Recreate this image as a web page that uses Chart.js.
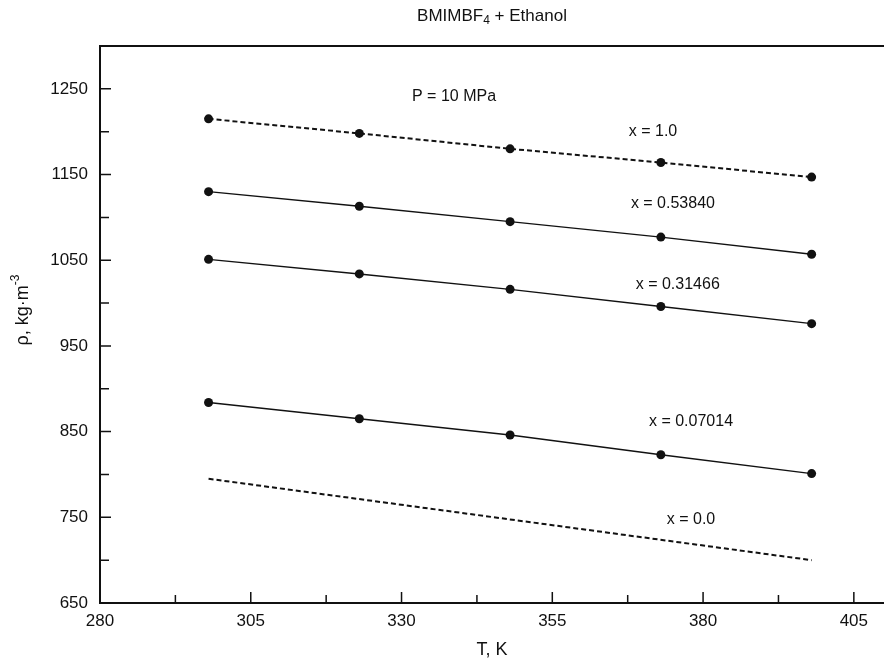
<!DOCTYPE html>
<html>
<head>
<meta charset="utf-8">
<script src="https://cdn.jsdelivr.net/npm/chart.js@4"></script>
<style>
  html, body { margin: 0; padding: 0; background: #fff; }
  #wrap { width: 884px; height: 663px; position: relative; }
</style>
</head>
<body>
<div id="wrap"><canvas id="densityChart"></canvas></div>
<script>
// temperatures (K) of the measured points
const temps = [298, 323, 348, 373, 398];
// density (kg/m3) for each mole fraction of BMIMBF4
const rhoX1000 = [1215, 1198, 1180, 1164, 1147];
const rhoX0538 = [1130, 1113, 1095, 1077, 1057];
const rhoX0315 = [1051, 1034, 1016, 996, 976];
const rhoX0070 = [884, 865, 846, 823, 801];
// pure ethanol, drawn as a dashed line without markers
const tempsEthanol = [298, 398];
const rhoX0000 = [795, 700];

const seriesNames = ['x = 1.0', 'x = 0.53840', 'x = 0.31466', 'x = 0.07014', 'x = 0.0'];
// where each series name sits, in data units (T, rho)
const nameT = [371.7, 375, 375.8, 378, 378];
const nameRho = [1200, 1116, 1021, 862, 747];

const xTicks = [280, 305, 330, 355, 380, 405];
const xMinor = [292.5, 317.5, 342.5, 367.5, 392.5];
const yTicks = [650, 750, 850, 950, 1050, 1150, 1250];
const yMinor = [700, 800, 900, 1000, 1100, 1200];

const FONT = "'Liberation Sans', Arial, Helvetica, sans-serif";
const INK = '#111';

function pts(xs, ys) {
    return xs.map((x, i) => ({x: x, y: ys[i]}));
}

function series(xs, ys, dashed, markers) {
    return {
        data: pts(xs, ys),
        showLine: true,
        borderColor: INK,
        backgroundColor: INK,
        borderWidth: dashed ? 2 : 1.4,
        borderDash: dashed ? [5, 3] : [],
        pointRadius: markers ? 4.5 : 0,
        pointBorderWidth: 0,
        pointBackgroundColor: INK,
        tension: 0
    };
}

const framePlugin = {
    id: 'frame',
    afterDraw(chart) {
        const {ctx, chartArea: a, scales: {x, y}} = chart;
        ctx.save();
        ctx.strokeStyle = INK;
        ctx.lineWidth = 2;
        ctx.beginPath();
        ctx.moveTo(a.right, a.top);
        ctx.lineTo(a.left, a.top);
        ctx.lineTo(a.left, a.bottom);
        ctx.lineTo(a.right, a.bottom);
        ctx.stroke();

        // inward ticks
        ctx.lineWidth = 1.5;
        ctx.beginPath();
        xTicks.forEach(v => { const px = x.getPixelForValue(v); ctx.moveTo(px, a.bottom); ctx.lineTo(px, a.bottom - 11); });
        xMinor.forEach(v => { const px = x.getPixelForValue(v); ctx.moveTo(px, a.bottom); ctx.lineTo(px, a.bottom - 8); });
        yTicks.forEach(v => { const py = y.getPixelForValue(v); ctx.moveTo(a.left, py); ctx.lineTo(a.left + 11, py); });
        yMinor.forEach(v => { const py = y.getPixelForValue(v); ctx.moveTo(a.left, py); ctx.lineTo(a.left + 9, py); });
        ctx.stroke();

        ctx.fillStyle = INK;
        ctx.textBaseline = 'middle';

        // series names and pressure note
        ctx.font = '16px ' + FONT;
        ctx.textAlign = 'center';
        seriesNames.forEach((s, i) => {
            ctx.fillText(s, x.getPixelForValue(nameT[i]), y.getPixelForValue(nameRho[i]));
        });
        ctx.fillText('P = 10 MPa', x.getPixelForValue(338.7), y.getPixelForValue(1241));

        // title with subscript
        ctx.textAlign = 'left';
        const big = '17px ' + FONT, small = '12px ' + FONT;
        ctx.font = big;
        const w1 = ctx.measureText('BMIMBF').width;
        const w3 = ctx.measureText(' + Ethanol').width;
        ctx.font = small;
        const w2 = ctx.measureText('4').width;
        let tx = (a.left + a.right) / 2 - (w1 + w2 + w3) / 2;
        const ty = 16;
        ctx.font = big;
        ctx.fillText('BMIMBF', tx, ty);
        ctx.font = small;
        ctx.fillText('4', tx + w1, ty + 5);
        ctx.font = big;
        ctx.fillText(' + Ethanol', tx + w1 + w2, ty);

        // x axis title
        ctx.font = '18px ' + FONT;
        ctx.textAlign = 'center';
        ctx.fillText('T, K', (a.left + a.right) / 2, 650);

        // y axis title, rotated, with superscript
        ctx.save();
        ctx.translate(23, 310);
        ctx.rotate(-Math.PI / 2);
        ctx.textAlign = 'left';
        ctx.font = '18px ' + FONT;
        const m1 = ctx.measureText('\u03c1, kg\u00b7m').width;
        ctx.font = small;
        const m2 = ctx.measureText('-3').width;
        const sx = -(m1 + m2) / 2;
        ctx.font = '18px ' + FONT;
        ctx.fillText('\u03c1, kg\u00b7m', sx, 0);
        ctx.font = small;
        ctx.fillText('-3', sx + m1, -7);
        ctx.restore();

        ctx.restore();
    }
};

new Chart(document.getElementById('densityChart'), {
    type: 'scatter',
    data: {
        datasets: [
            series(temps, rhoX1000, true, true),
            series(temps, rhoX0538, false, true),
            series(temps, rhoX0315, false, true),
            series(temps, rhoX0070, false, true),
            series(tempsEthanol, rhoX0000, true, false)
        ]
    },
    options: {
        responsive: true,
        maintainAspectRatio: false,
        animation: false,
        layout: { autoPadding: false, padding: { top: 46, right: 0, bottom: 0, left: 0 } },
        plugins: {
            legend: { display: false },
            tooltip: { enabled: false },
            title: { display: false }
        },
        scales: {
            x: {
                type: 'linear',
                min: 280,
                max: 410,
                afterBuildTicks: s => { s.ticks = xTicks.map(v => ({value: v})); },
                afterFit: s => { s.height = 60; },
                grid: { display: false, drawTicks: false },
                border: { display: false },
                ticks: {
                    autoSkip: false,
                    maxRotation: 0,
                    padding: 8,
                    color: INK,
                    font: { family: FONT, size: 17 },
                    callback: v => String(v)
                }
            },
            y: {
                type: 'linear',
                min: 650,
                max: 1300,
                afterBuildTicks: s => { s.ticks = yTicks.map(v => ({value: v})); },
                afterFit: s => { s.width = 100; },
                grid: { display: false, drawTicks: false },
                border: { display: false },
                ticks: {
                    autoSkip: false,
                    padding: 12,
                    color: INK,
                    font: { family: FONT, size: 17 },
                    callback: v => String(v)
                }
            }
        }
    },
    plugins: [framePlugin]
});
</script>
</body>
</html>
